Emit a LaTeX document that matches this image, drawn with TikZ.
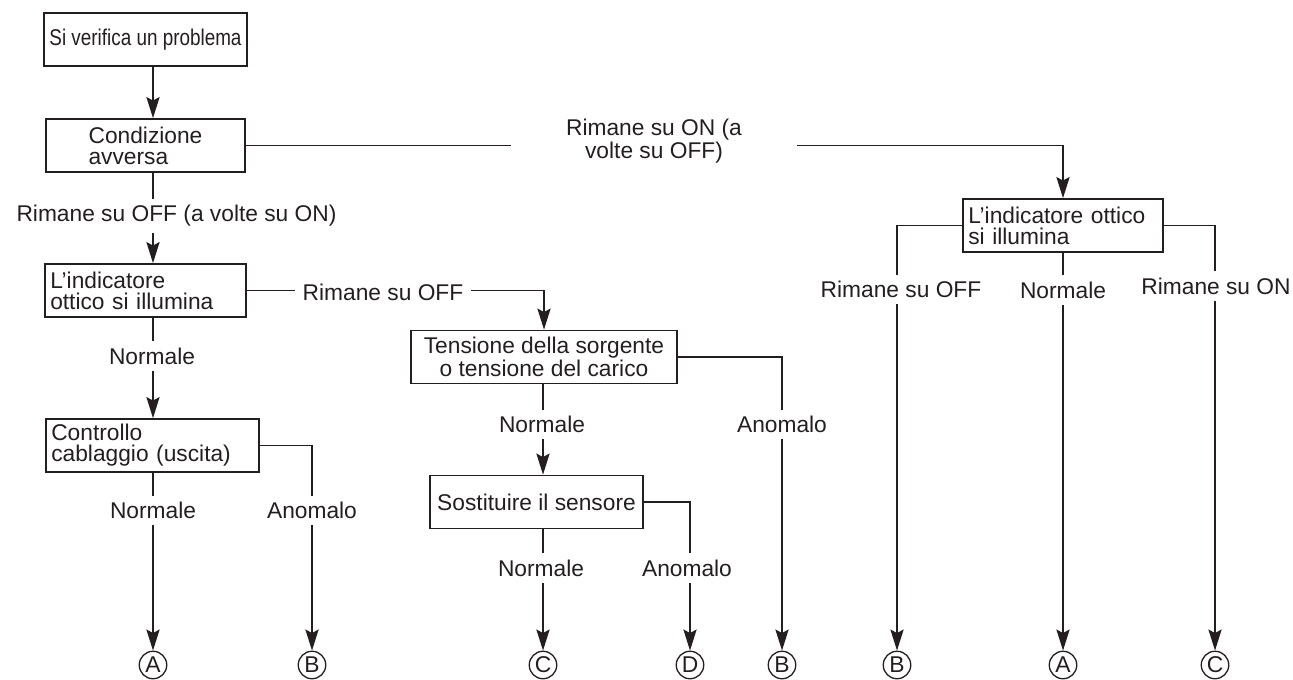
\documentclass[tikz,border=0pt]{standalone}
\usepackage{fontspec}
\setmainfont{Liberation Sans}
\newfontfamily\narrowfont[FakeStretch=0.83]{Liberation Sans}
\usepackage{xcolor}
\usetikzlibrary{arrows.meta,positioning}
\definecolor{inkgray}{HTML}{231F20}
\newcommand{\flowsize}{\fontsize{12.95}{11.9}\selectfont}
\tikzset{
  stepbox/.style={
    draw=inkgray,
    line width=1pt,
    minimum height=1.06cm,
    inner sep=3pt,
    text=inkgray,
    font=\flowsize
  },
  flushbox/.style={stepbox,align=left},
  branchlabel/.style={inner sep=3.5pt,text=inkgray,font=\flowsize},
  endmark/.style={
    circle,
    draw=inkgray,
    line width=0.75pt,
    minimum size=0.55cm,
    inner sep=0pt,
    text=inkgray,
    font=\fontsize{13}{13}\selectfont
  },
  flowline/.style={line width=1pt,draw=inkgray},
  flowarrow/.style={flowline,-{Stealth[length=12pt,width=7.5pt,inset=2pt]}}
}

\begin{document}
\begin{tikzpicture}[x=0.02cm,y=-0.02cm]
  \useasboundingbox (0,0) rectangle (1293,679);
  % boxes
  \node[stepbox,minimum width=4.02cm,font=\narrowfont\flowsize] (problema) at (145.5,39.5) {Si verifica un problema};
  \node[stepbox,align=left,minimum width=3.98cm] (avversa) at (145.5,145.5) {Condizione\\avversa};
  \node[flushbox,text width=3.81cm] (spia1) at (145.5,290.5) {L’indicatore\\ottico si illumina};
  \node[flushbox,text width=4.05cm] (controllo) at (152.5,445.5) {Controllo\\cablaggio (uscita)};
  \node[stepbox,align=center,minimum width=5.32cm] (tensione) at (544,357) {Tensione della sorgente\\o tensione del carico};
  \node[stepbox,minimum width=4.26cm] (sensore) at (536.5,502) {Sostituire il sensore};
  \node[flushbox,text width=3.79cm] (spia2) at (1063,225.5) {L’indicatore ottico\\si illumina};
  % end marks
  \node[endmark] (cA1) at (153,665) {A};
  \node[endmark] (cB1) at (312,665) {B};
  \node[endmark] (cC1) at (543,665) {C};
  \node[endmark] (cD) at (690,665) {D};
  \node[endmark] (cB3) at (782,665) {B};
  \node[endmark] (cB2) at (897,665) {B};
  \node[endmark] (cA2) at (1063,665) {A};
  \node[endmark] (cC2) at (1215,665) {C};
  % branch labels
  \node[branchlabel] (lblOffOn) at (176.5,216) {Rimane su OFF (a volte su ON)};
  \node[branchlabel,align=center,inner xsep=31pt] (lblOnOff) at (654,141) {Rimane su ON (a\\volte su OFF)};
  \node[branchlabel,inner xsep=4pt] (lblOff1) at (383,292) {Rimane su OFF};
  \node[branchlabel] (lblNorm1) at (152,356) {Normale};
  \node[branchlabel] (lblNorm2) at (153,510.5) {Normale};
  \node[branchlabel] (lblAnom1) at (312,510.5) {Anomalo};
  \node[branchlabel] (lblNorm3) at (542,424.5) {Normale};
  \node[branchlabel] (lblAnom2) at (782,424.5) {Anomalo};
  \node[branchlabel] (lblNorm4) at (541,568) {Normale};
  \node[branchlabel] (lblAnom3) at (687,568) {Anomalo};
  \node[branchlabel] (lblOff3) at (901,289.5) {Rimane su OFF};
  \node[branchlabel] (lblNorm5) at (1063,290) {Normale};
  \node[branchlabel] (lblOn3) at (1216,286) {Rimane su ON};
  % left column
  \draw[flowarrow] (problema.south -| cA1) -- (avversa.north -| cA1);
  \draw[flowline] (avversa.south -| cA1) -- (lblOffOn.north -| cA1);
  \draw[flowarrow] (lblOffOn.south -| cA1) -- (spia1.north -| cA1);
  \draw[flowline] (spia1.south -| cA1) -- (lblNorm1.north -| cA1);
  \draw[flowarrow] (lblNorm1.south -| cA1) -- (controllo.north -| cA1);
  \draw[flowline] (controllo.south -| cA1) -- (lblNorm2.north -| cA1);
  \draw[flowarrow] (lblNorm2.south -| cA1) -- (cA1);
  \draw[flowline] (controllo.east) -| (lblAnom1.north -| cB1);
  \draw[flowarrow] (lblAnom1.south -| cB1) -- (cB1);
  % middle column
  \draw[flowline] (spia1.east) -- (lblOff1.west |- spia1.east);
  \draw[flowarrow] (lblOff1.east |- spia1.east) -| (tensione.north);
  \draw[flowline] (tensione.south -| cC1) -- (lblNorm3.north -| cC1);
  \draw[flowarrow] (lblNorm3.south -| cC1) -- (sensore.north -| cC1);
  \draw[flowline] (tensione.east) -| (lblAnom2.north -| cB3);
  \draw[flowarrow] (lblAnom2.south -| cB3) -- (cB3);
  \draw[flowline] (sensore.south -| cC1) -- (lblNorm4.north -| cC1);
  \draw[flowarrow] (lblNorm4.south -| cC1) -- (cC1);
  \draw[flowline] (sensore.east) -| (lblAnom3.north -| cD);
  \draw[flowarrow] (lblAnom3.south -| cD) -- (cD);
  % right column
  \draw[flowline] (avversa.east) -- (lblOnOff.west |- avversa.east);
  \draw[flowarrow] (lblOnOff.east |- avversa.east) -| (spia2.north -| cA2);
  \draw[flowline] (spia2.west) -| (lblOff3.north -| cB2);
  \draw[flowarrow] (lblOff3.south -| cB2) -- (cB2);
  \draw[flowline] (spia2.south -| cA2) -- (lblNorm5.north -| cA2);
  \draw[flowarrow] (lblNorm5.south -| cA2) -- (cA2);
  \draw[flowline] (spia2.east) -| (lblOn3.north -| cC2);
  \draw[flowarrow] (lblOn3.south -| cC2) -- (cC2);
\end{tikzpicture}
\end{document}
